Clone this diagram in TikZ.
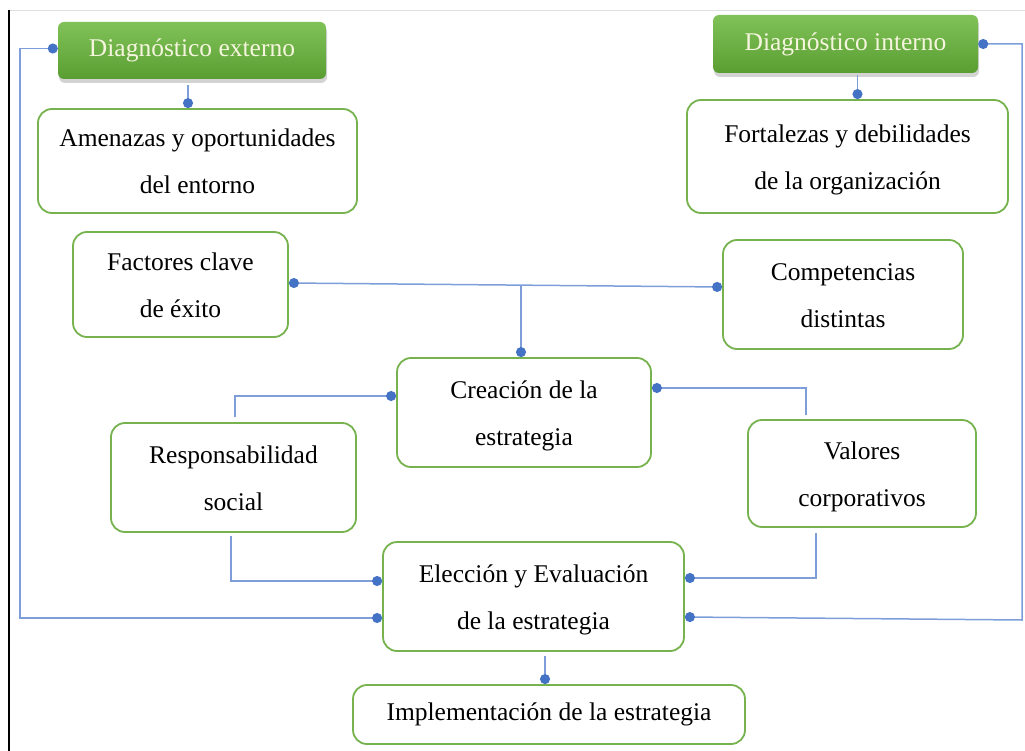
\documentclass[tikz,border=0pt]{standalone}
\usepackage{fontspec}
\setmainfont{Liberation Serif}
\usetikzlibrary{arrows.meta,shadows}
\definecolor{boxgreen}{RGB}{118,178,78}
\definecolor{topgreen}{RGB}{128,194,88}
\definecolor{botgreen}{RGB}{90,158,50}
\definecolor{linkblue}{RGB}{126,158,218}
\definecolor{dotblue}{RGB}{68,114,196}
\definecolor{headtext}{RGB}{245,245,222}
% text block lowered slightly inside its box
\newcommand{\boxlines}[1]{\raisebox{-4pt}{\begin{tabular}{@{}c@{}}#1\end{tabular}}}
\tikzset{
  txt/.style={font=\fontsize{25.5}{47}\selectfont, align=center, inner sep=0pt},
  whitebox/.style={txt, draw=boxgreen, line width=1.8pt, rounded corners=14pt, fill=white, text=black},
  headbox/.style={txt, rounded corners=6pt, top color=topgreen, bottom color=botgreen, text=headtext,
    drop shadow={opacity=0.35, shadow xshift=1pt, shadow yshift=-4pt}},
  conn/.style={draw=linkblue, line width=1.5pt, -{Circle[length=10pt,width=10pt,color=dotblue]}},
  conn2/.style={draw=linkblue, line width=1.5pt, {Circle[length=10pt,width=10pt,color=dotblue]}-{Circle[length=10pt,width=10pt,color=dotblue]}}
}
\begin{document}
\begin{tikzpicture}[x=1pt,y=-1pt]
\useasboundingbox (0,0) rectangle (1025,751);
% page frame
\draw[gray!25, line width=0.8pt] (10,10) -- (1025,10);
\draw[black, line width=1.6pt] (9,10) -- (9,751);

% header boxes
\node[headbox, minimum width=268pt, minimum height=57pt] (dx) at (192,50.5) {Diagnóstico externo};
\node[headbox, minimum width=265pt, minimum height=58pt] (di) at (845.5,44) {Diagnóstico interno};

% content boxes
\node[whitebox, minimum width=319pt, minimum height=104pt] (am) at (197.5,161) {\boxlines{Amenazas y oportunidades\\del entorno}};
\node[whitebox, minimum width=321pt, minimum height=113pt] (fo) at (847.5,156.5) {\boxlines{Fortalezas y debilidades\\de la organización}};
\node[whitebox, minimum width=215pt, minimum height=105pt] (fk) at (180.5,284.5) {\boxlines{Factores clave\\de éxito}};
\node[whitebox, minimum width=240pt, minimum height=109pt] (cd) at (843,294.5) {\boxlines{Competencias\\distintas}};
\node[whitebox, minimum width=254pt, minimum height=109pt] (cr) at (524,412.5) {\boxlines{Creación de la\\estrategia}};
\node[whitebox, minimum width=245pt, minimum height=109pt] (rs) at (233.5,477.5) {\boxlines{Responsabilidad\\social}};
\node[whitebox, minimum width=228pt, minimum height=107pt] (va) at (862,473.5) {\boxlines{Valores\\corporativos}};
\node[whitebox, minimum width=301pt, minimum height=109pt] (el) at (533.5,596.5) {\boxlines{Elección y Evaluación\\de la estrategia}};
\node[whitebox, minimum width=392pt, minimum height=59pt] (im) at (549,714.5) {\raisebox{-3pt}{Implementación de la estrategia}};

% diagnosis to its findings
\draw[conn] ([xshift=-4pt,yshift=-6pt]dx.south) -- ([xshift=-4pt]dx.south |- am.north);
\draw[conn] ([xshift=12pt,yshift=-2pt]di.south) -- ([xshift=12pt]di.south |- fo.north);

% feedback loops into the choice of strategy
\coordinate (lx) at (20,0);
\coordinate (rx) at (1022,0);
\coordinate (eL) at ([yshift=-21.5pt]el.west);
\coordinate (eR) at ([yshift=-20.5pt]el.east);
\draw[conn2] ([yshift=2pt]dx.west) -- ([yshift=2pt]dx.west -| lx) -- (lx |- eL) -- (eL);
\draw[conn2] (di.east) -- (di.east -| rx) -- ([yshift=-3pt]rx |- eR) -- (eR);

% key factors and competences feed the creation
\coordinate (fkE) at ([yshift=1.5pt]fk.east);
\coordinate (cdW) at ([yshift=7.5pt]cd.west);
\draw[conn2] (fkE) -- (cdW);
\coordinate (jn) at (521,285);
\draw[conn] (jn) -- (jn |- cr.north);

% social responsibility and values
\draw[conn] ([xshift=1.5pt,yshift=5pt]rs.north) |- ([yshift=16.5pt]cr.west);
\draw[conn] ([xshift=-56pt,yshift=4pt]va.north) |- ([yshift=24.5pt]cr.east);
\draw[conn] ([xshift=-2.5pt,yshift=-3pt]rs.south) |- ([yshift=15.5pt]el.west);
\draw[conn] ([xshift=-46pt,yshift=-5pt]va.south) |- ([yshift=18.5pt]el.east);

% choice to implementation
\draw[conn] ([xshift=11.5pt,yshift=-4pt]el.south) -- ([xshift=11.5pt]el.south |- im.north);
\end{tikzpicture}
\end{document}
